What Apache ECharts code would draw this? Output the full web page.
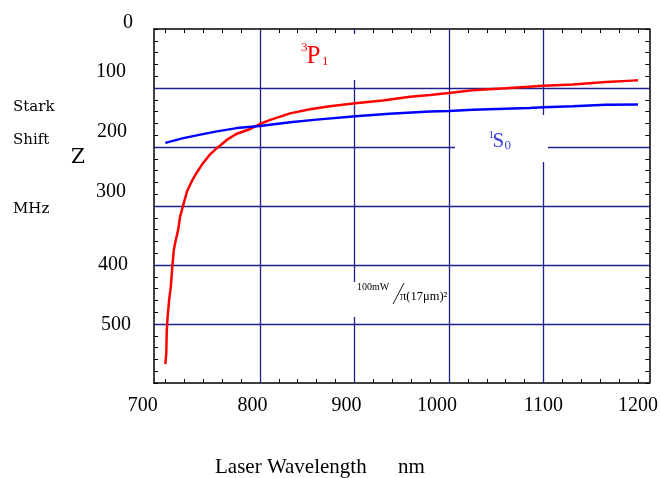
<!DOCTYPE html>
<html>
<head>
<meta charset="utf-8">
<script src="https://cdn.jsdelivr.net/npm/echarts@6/dist/echarts.min.js"></script>
<style>
  html, body { margin: 0; padding: 0; background: #ffffff; }
  #chart { width: 661px; height: 478px; }
</style>
</head>
<body>
<div id="chart"></div>
<script>
// Stark shift (MHz, drawn downward) against laser wavelength (nm)
const wavelength3P1 = [700, 701, 701.5, 702.3, 704, 705.8, 707.5, 709, 711, 713.6, 715.6, 719, 723, 728, 733, 740, 747, 754.5, 765, 775, 789, 800, 811, 832, 853, 874, 901, 930, 959, 980, 1000, 1025, 1060, 1100, 1131, 1166, 1194, 1200];
const shift3P1      = [568, 550, 512, 490, 459, 437, 400, 374, 358, 340, 318, 298, 275, 258, 244, 227, 213, 202, 188, 178, 170, 161, 154, 143, 136, 131, 126, 121, 115, 112, 108.5, 104, 100.5, 96, 94, 90, 87.5, 87];

const wavelength1S0 = [700, 719, 737, 754.5, 775.5, 800, 832, 860, 901, 937, 980, 1000, 1025, 1085, 1100, 1131, 1166, 1200];
const shift1S0      = [193, 185, 179, 173.5, 168, 164.5, 158, 153.6, 148, 143.5, 140, 139, 136.7, 134, 132.5, 131, 128.5, 128];

const xTickLabels = [700, 800, 900, 1000, 1100, 1200];
const yTickLabels = [0, 100, 200, 300, 400, 500];
const xGridValues = [800, 900, 1000, 1100];
const yGridValues = [100, 200, 300, 400, 500];

// minor ticks every 20 units
const xMinorTicks = [];
for (let v = 700; v <= 1200; v += 20) xMinorTicks.push(v);
const yMinorTicks = [];
for (let v = 0; v <= 600; v += 20) yMinorTicks.push(v);

const SERIF = '"Liberation Serif", "Times New Roman", serif';
const WIDE_SERIF = '"DejaVu Serif", serif';
const GRID_COLOR = '#20208c';

const pairs = (xs, ys) => xs.map((x, i) => [x, ys[i]]);

// per-label nudges for the tick numbers
const xLabelPad = { 700: [0, 45, 0, 0], 800: [0, 15, 0, 0], 900: [0, 16, 0, 0], 1000: [0, 24, 0, 0], 1100: [0, 0, 0, 0], 1200: [0, 0, 0, 0] };
const yLabelPad = { 0: [0, 0, 12, 0], 100: [0, 7, 32, 0], 200: [0, 6, 30, 0], 300: [0, 7, 28, 0], 400: [0, 5, 0, 0], 500: [2, 2, 0, 0] };
const richFrom = (pads, prefix) => {
  const r = {};
  Object.keys(pads).forEach(k => {
    r[prefix + k] = { fontFamily: SERIF, fontSize: 20, color: '#000', padding: pads[k] };
  });
  return r;
};

const frameAxis = {
  axisLine: { show: true, onZero: false, lineStyle: { color: '#000', width: 1.5 } },
  splitLine: { show: false }
};

const chart = echarts.init(document.getElementById('chart'), null, { renderer: 'canvas' });
chart.setOption({
  animation: false,
  backgroundColor: '#ffffff',
  grid: { left: 154, top: 29, width: 496, height: 354, containLabel: false },
  xAxis: [
    Object.assign({}, frameAxis, {
      type: 'value', position: 'bottom', min: 688, max: 1212,
      axisTick: { show: true, inside: true, length: 4, customValues: xMinorTicks, lineStyle: { color: '#000', width: 1 } },
      axisLabel: {
        show: true, margin: 13, customValues: xTickLabels,
        formatter: v => '{x' + v + '|' + v + '}',
        rich: richFrom(xLabelPad, 'x')
      }
    }),
    Object.assign({}, frameAxis, {
      type: 'value', position: 'top', min: 688, max: 1212,
      axisTick: { show: true, inside: true, length: 4, customValues: xMinorTicks, lineStyle: { color: '#000', width: 1 } },
      axisLabel: { show: false }
    })
  ],
  yAxis: [
    Object.assign({}, frameAxis, {
      type: 'value', position: 'left', inverse: true, min: 0, max: 600,
      axisTick: { show: true, inside: true, length: 4, customValues: yMinorTicks, lineStyle: { color: '#000', width: 1 } },
      axisLabel: {
        show: true, margin: 21, customValues: yTickLabels,
        formatter: v => '{y' + v + '|' + v + '}',
        rich: richFrom(yLabelPad, 'y')
      }
    }),
    Object.assign({}, frameAxis, {
      type: 'value', position: 'right', inverse: true, min: 0, max: 600,
      axisTick: { show: true, inside: true, length: 4, customValues: yMinorTicks, lineStyle: { color: '#000', width: 1 } },
      axisLabel: { show: false }
    })
  ],
  series: [
    {
      name: 'grid',
      type: 'line',
      data: [],
      z: 1,
      silent: true,
      markLine: {
        silent: true,
        z: 1,
        symbol: ['none', 'none'],
        label: { show: false },
        lineStyle: { color: GRID_COLOR, width: 1.3, type: 'solid' },
        emphasis: { disabled: true },
        data: xGridValues.map(v => ({ xAxis: v })).concat(yGridValues.map(v => ({ yAxis: v })))
      }
    },
    {
      name: '3P1',
      type: 'line',
      z: 5,
      data: pairs(wavelength3P1, shift3P1),
      showSymbol: false,
      lineStyle: { color: '#ff0000', width: 2.5 },
      silent: true
    },
    {
      name: '1S0',
      type: 'line',
      z: 5,
      data: pairs(wavelength1S0, shift1S0),
      showSymbol: false,
      lineStyle: { color: '#0000ff', width: 2.5 },
      silent: true
    }
  ],
  graphic: [
    // white backings behind the in-plot labels
    { type: 'rect', z: 3, silent: true, shape: { x: 272, y: 34, width: 88, height: 46 }, style: { fill: '#ffffff' } },
    { type: 'rect', z: 3, silent: true, shape: { x: 455, y: 115, width: 93, height: 47 }, style: { fill: '#ffffff' } },
    { type: 'rect', z: 3, silent: true, shape: { x: 350, y: 282, width: 94, height: 35 }, style: { fill: '#ffffff' } },

    // 3P1 label
    { type: 'text', z: 4, silent: true, style: { text: '3', x: 301, y: 47.5, font: '13px ' + SERIF, fill: '#ff0000', verticalAlign: 'middle' } },
    { type: 'text', z: 4, silent: true, style: { text: 'P', x: 306.5, y: 56, font: '25px ' + SERIF, fill: '#ff0000', verticalAlign: 'middle' } },
    { type: 'text', z: 4, silent: true, style: { text: '1', x: 322, y: 62, font: '13px ' + SERIF, fill: '#ff0000', verticalAlign: 'middle' } },

    // 1S0 label
    { type: 'text', z: 4, silent: true, style: { text: '1', x: 488.5, y: 135.5, font: '11px ' + SERIF, fill: '#3c3cd6', verticalAlign: 'middle' } },
    { type: 'text', z: 4, silent: true, style: { text: 'S', x: 492.5, y: 141.5, font: '21px ' + SERIF, fill: '#3c3cd6', verticalAlign: 'middle' } },
    { type: 'text', z: 4, silent: true, style: { text: '0', x: 504.5, y: 145.5, font: '13px ' + SERIF, fill: '#3c3cd6', verticalAlign: 'middle' } },

    // intensity note: 100mW / π(17μm)²
    { type: 'text', z: 4, silent: true, style: { text: '100mW', x: 357, y: 287, font: '10px ' + SERIF, fill: '#000', verticalAlign: 'middle' } },
    { type: 'line', z: 4, silent: true, shape: { x1: 393, y1: 304, x2: 404, y2: 283 }, style: { stroke: '#000', lineWidth: 0.9 } },
    { type: 'text', z: 4, silent: true, style: { text: 'π(17μm)²', x: 400, y: 297, font: '12.5px ' + SERIF, fill: '#000', verticalAlign: 'middle' } },

    // y-axis caption
    { type: 'text', silent: true, style: { text: 'Stark', x: 13, y: 107, font: '15px ' + WIDE_SERIF, fill: '#000', verticalAlign: 'middle' } },
    { type: 'text', silent: true, style: { text: 'Shift', x: 13, y: 140, font: '15px ' + WIDE_SERIF, fill: '#000', verticalAlign: 'middle' } },
    { type: 'text', silent: true, style: { text: 'Z', x: 71, y: 157.5, font: '20px ' + WIDE_SERIF, fill: '#000', verticalAlign: 'middle' } },
    { type: 'text', silent: true, style: { text: 'MHz', x: 13, y: 209, font: '15px ' + WIDE_SERIF, fill: '#000', verticalAlign: 'middle' } },

    // x-axis caption
    { type: 'text', silent: true, style: { text: 'Laser Wavelength', x: 215, y: 467, font: '21px ' + SERIF, fill: '#000', verticalAlign: 'middle' } },
    { type: 'text', silent: true, style: { text: 'nm', x: 398, y: 467, font: '21px ' + SERIF, fill: '#000', verticalAlign: 'middle' } }
  ]
});
</script>
</body>
</html>
